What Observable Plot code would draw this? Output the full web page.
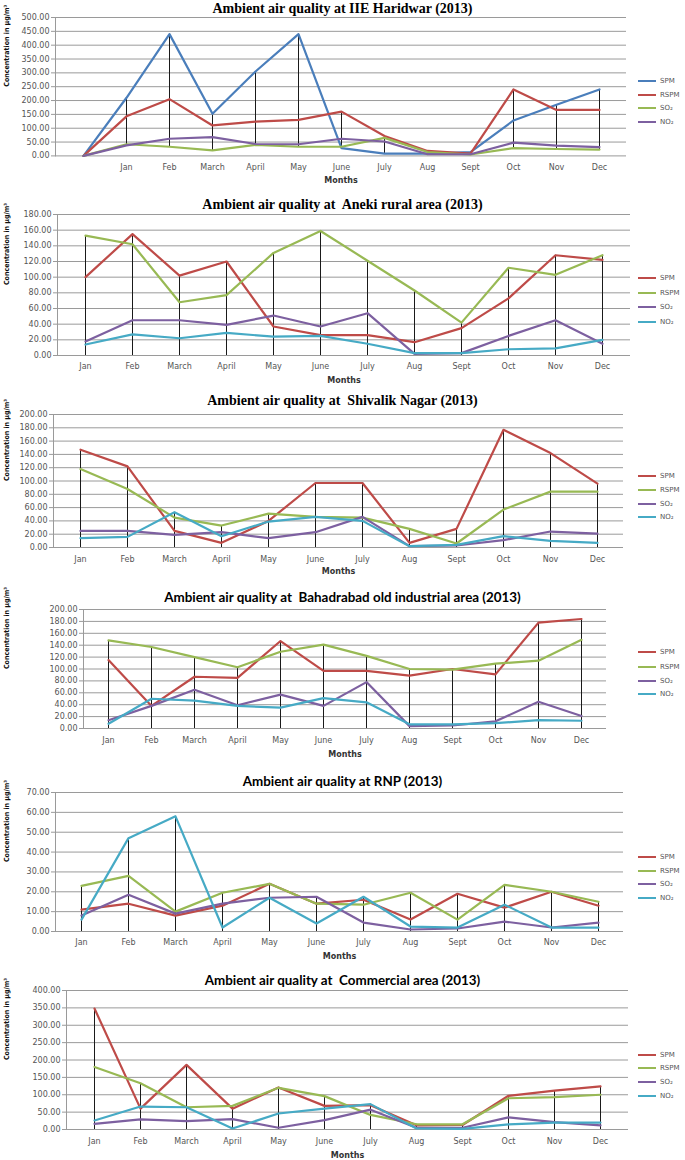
<!DOCTYPE html>
<html><head><meta charset="utf-8">
<script src="https://cdn.jsdelivr.net/npm/d3@7"></script>
<script src="https://cdn.jsdelivr.net/npm/@observablehq/plot@0.6"></script>
<style>
body{margin:0;background:#fff;}
#page{position:relative;width:685px;height:1160px;overflow:hidden;background:#fff;}
#page svg{position:absolute;left:0;overflow:visible;}
.title{position:absolute;left:0;width:685px;text-align:center;white-space:pre;line-height:1;transform:translateY(-50%);color:#000;}
.serif{font-family:"Liberation Serif",serif;font-weight:bold;font-size:14px;}
.sans{font-family:Lato,sans-serif;font-weight:bold;font-size:13.4px;}
.lg{position:absolute;left:638px;font-family:"DejaVu Sans",sans-serif;font-size:7px;color:#555;display:flex;align-items:center;white-space:nowrap;transform:translateY(-50%);}
.lg .sw{width:18px;height:2px;margin-right:4px;}
</style>
</head><body><div id="page"></div>
<script>
// ---------- DATA ----------
const months = ["Jan","Feb","March","April","May","June","July","Aug","Sept","Oct","Nov","Dec"];
const haridwarMonths = ["", ...months];
const seriesNames = ["SPM","RSPM","SO₂","NO₂"];

// IIE Haridwar (first category is blank)
const haridwarSPM  = [0,210,440,152,305,440,28,8,8,14,128,185,240];
const haridwarRSPM = [0,143,205,110,124,130,160,72,18,8,240,166,166];
const haridwarSO2  = [0,42,33,20,40,33,33,65,14,5,28,25,23];
const haridwarNO2  = [0,38,62,68,43,42,62,52,6,6,48,37,32];

// Aneki rural area
const anekiSPM  = [100,155,102,120,37,26,26,17,35,73,128,122];
const anekiRSPM = [153,142,68,77,131,159,121,83,42,112,103,128];
const anekiSO2  = [18,45,45,39,51,37,54,2,3,25,45,15];
const anekiNO2  = [14,27,22,29,24,25,15,3,3,8,9,20];

// Shivalik Nagar
const shivalikSPM  = [147,122,25,7,40,97,97,7,28,177,142,96];
const shivalikRSPM = [118,88,45,33,51,46,45,28,6,57,84,84];
const shivalikSO2  = [25,25,19,23,14,23,46,2,3,11,24,21];
const shivalikNO2  = [14,16,53,17,39,46,40,2,4,17,10,7];

// Bahadrabad old industrial area
const bahadSPM  = [115,38,87,85,147,97,97,89,100,91,178,184];
const bahadRSPM = [148,137,120,103,129,141,122,100,99,109,114,149];
const bahadSO2  = [14,38,65,39,57,38,78,4,5,12,45,21];
const bahadNO2  = [8,50,47,38,35,51,44,7,7,9,14,13];

// RNP
const rnpSPM  = [11,14,8,13,24,14,16,6,19,12,20,13];
const rnpRSPM = [23,28,10,19.5,24,14,13.5,19.5,6,23.5,20,15];
const rnpSO2  = [8,18.5,9,14,17,17.5,4.5,1,1.5,5,2,4.5];
const rnpNO2  = [6,47,58,2,17,4,17.5,2.5,2,13.5,2,2];

// Commercial area
const commSPM  = [348,60,186,60,121,68,70,12,13,97,112,124];
const commRSPM = [180,133,64,68,120,96,42,15,15,90,93,100];
const commSO2  = [16,29,24,30,5,27,57,5,5,35,21,12];
const commNO2  = [26,66,64,3,46,60,73,3,2,15,20,20];

const titles = [
  "Ambient air quality at IIE Haridwar (2013)",
  "Ambient air quality at  Aneki rural area (2013)",
  "Ambient air quality at  Shivalik Nagar (2013)",
  "Ambient air quality at  Bahadrabad old industrial area (2013)",
  "Ambient air quality at RNP (2013)",
  "Ambient air quality at  Commercial area (2013)"
];
const yTitle = "Concentration in µg/m³";
const xTitle = "Months";

// ---------- STYLE / LAYOUT ----------
const palette1 = ["#4a7ebb","#be4b48","#98b954","#7d60a0"];
const palette2 = ["#be4b48","#98b954","#7d60a0","#46aac5"];

const panels = [
  {cats: haridwarMonths, series:[haridwarSPM,haridwarRSPM,haridwarSO2,haridwarNO2], colors: palette1, yMax:500, step:50, highLow:true,
   top:17.3, bottom:155.7, left:55, right:626, labelsY:168, monthsY:183, titleY:8.5, titleCls:"serif", legend:[81,95,108,122]},
  {cats: months, series:[anekiSPM,anekiRSPM,anekiSO2,anekiNO2], colors: palette2, yMax:180, step:20,
   top:214, bottom:355, left:57, right:630, labelsY:367, monthsY:382, titleY:205, titleCls:"serif", legend:[278,293,307,322]},
  {cats: months, series:[shivalikSPM,shivalikRSPM,shivalikSO2,shivalikNO2], colors: palette2, yMax:200, step:20,
   top:414.3, bottom:547.3, left:53, right:623, labelsY:560, monthsY:574, titleY:401, titleCls:"serif", legend:[476,490,504,517]},
  {cats: months, series:[bahadSPM,bahadRSPM,bahadSO2,bahadNO2], colors: palette2, yMax:200, step:20,
   top:609, bottom:728, left:83, right:606, labelsY:741, monthsY:756, titleY:598, titleCls:"sans", legend:[652,667,681,694]},
  {cats: months, series:[rnpSPM,rnpRSPM,rnpSO2,rnpNO2], colors: palette2, yMax:70, step:10,
   top:792, bottom:931, left:55, right:623, labelsY:943, monthsY:958, titleY:782, titleCls:"sans", legend:[857,871,884,898]},
  {cats: months, series:[commSPM,commRSPM,commSO2,commNO2], colors: palette2, yMax:400, step:50,
   top:990, bottom:1129, left:66, right:628, labelsY:1142, monthsY:1157, titleY:981, titleCls:"sans", legend:[1055,1068,1082,1096]}
];

const page = document.getElementById("page");
const fmt = d3.format(".2f");

panels.forEach((p, pi) => {
  const rows = [];
  p.series.forEach((vals, si) => vals.forEach((v, i) => rows.push({month: p.cats[i], series: seriesNames[si], value: v})));
  const drops = p.cats.map((m, i) => {
    const vs = p.series.map(s => s[i]);
    return {month: m, lo: p.highLow ? d3.min(vs) : 0, hi: d3.max(vs)};
  }).filter(d => d.month !== "");
  const svgTop = p.top - 10;
  const height = Math.round(p.monthsY + 8 - svgTop);
  const ticks = d3.range(0, p.yMax + p.step / 2, p.step);
  const chart = Plot.plot({
    width: 685,
    height,
    marginTop: 10,
    marginBottom: height - 10 - (p.bottom - p.top),
    marginLeft: p.left,
    marginRight: 685 - p.right,
    style: {fontFamily: "DejaVu Sans, sans-serif", fontSize: "8px", color: "#555", background: "transparent", overflow: "visible"},
    x: {type: "point", domain: p.cats, padding: 0.5},
    y: {domain: [0, p.yMax]},
    color: {domain: seriesNames, range: p.colors},
    marks: [
      Plot.gridY(ticks, {stroke: "#9a9a9a", strokeOpacity: 1, strokeWidth: 1}),
      Plot.axisY({ticks, tickFormat: fmt, tickSize: 4, tickPadding: 2, label: null, stroke: "#9a9a9a"}),
      Plot.frame({anchor: "left", stroke: "#9a9a9a"}),
      Plot.axisX({tickSize: 0, tickPadding: p.labelsY - p.bottom - 4, label: null}),
      Plot.ruleX(drops, {x: "month", y1: "lo", y2: "hi", stroke: "#1a1a1a", strokeWidth: 1}),
      Plot.line(rows, {x: "month", y: "value", z: "series", stroke: "series", strokeWidth: 2.2}),
      Plot.text([yTitle], {text: d => d, frameAnchor: "left", dx: -(p.left - 6), rotate: -90,
        fontFamily: "Liberation Sans Narrow, DejaVu Sans Condensed, Arial Narrow, sans-serif", fontWeight: "bold", fontSize: 7, fill: "#111"}),
      Plot.text([xTitle], {text: d => d, frameAnchor: "bottom", dy: p.monthsY - p.bottom,
        fontWeight: "bold", fontSize: 8, fill: "#333"})
    ]
  });
  chart.style.top = svgTop + "px";
  page.appendChild(chart);

  const t = document.createElement("div");
  t.className = "title " + p.titleCls;
  t.style.top = p.titleY + "px";
  t.textContent = titles[pi];
  page.appendChild(t);

  seriesNames.forEach((name, si) => {
    const item = document.createElement("div");
    item.className = "lg";
    item.style.top = p.legend[si] + "px";
    const sw = document.createElement("span");
    sw.className = "sw";
    sw.style.background = p.colors[si];
    item.appendChild(sw);
    item.appendChild(document.createTextNode(name));
    page.appendChild(item);
  });
});
</script>
</body></html>
